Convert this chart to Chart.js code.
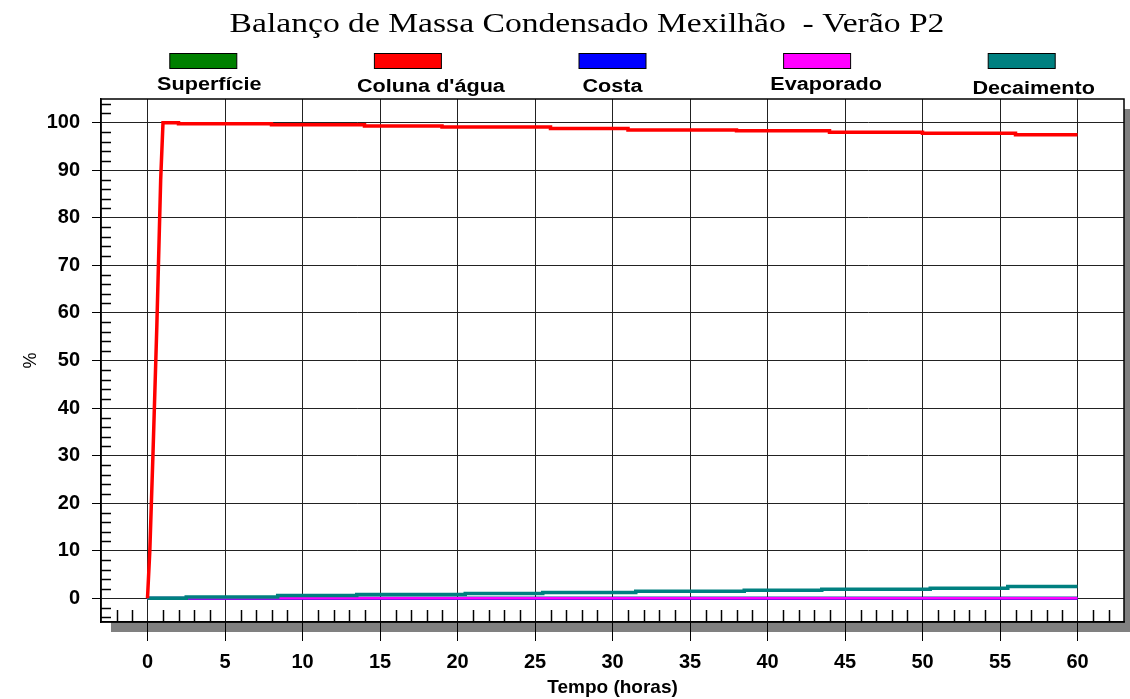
<!DOCTYPE html>
<html>
<head>
  <title>Balanço de Massa Condensado Mexilhão - Verão P2</title>
  <script src="https://cdn.jsdelivr.net/npm/chart.js"></script>
  <style>
    body { margin: 0; background: #fff; }
    canvas { display: block; }
  </style>
</head>
<body>
<canvas id="chart" width="1130" height="699"></canvas>
<script>
const titulo = 'Balanço de Massa Condensado Mexilhão  - Verão P2';
const series = ['Superfície', "Coluna d'água", 'Costa', 'Evaporado', 'Decaimento'];
const cores = ['#008000', '#ff0000', '#0000ff', '#ff00ff', '#008080'];

// coluna d'água: subida rápida na primeira hora, depois degraus
const horasSubida = [0, 0.15, 0.35, 0.6, 0.85, 1.0];
const colunaSubida = [0, 10, 30, 57, 88, 100];
const horasColuna = [1.0, 2.0, 8.0, 14.0, 19.0, 26.0, 31.0, 38.0, 44.0, 50.0, 56.0, 60.0];
const colunaDegraus = [100, 99.8, 99.6, 99.3, 99.1, 98.8, 98.5, 98.3, 98.0, 97.8, 97.5, 97.5];

const horasDecaimento = [0, 2.5, 8.4, 13.5, 20.5, 25.5, 31.5, 38.5, 43.5, 50.5, 55.5, 60];
const decaimento = [0, 0.27, 0.57, 0.78, 0.99, 1.2, 1.47, 1.68, 1.89, 2.1, 2.45, 2.45];

const horasZero = [0, 60];
const superficie = [0, 0];
const costa = [0, 0];
const evaporado = [0, 0];

const xTicks = [0, 5, 10, 15, 20, 25, 30, 35, 40, 45, 50, 55, 60];
const yTicks = [0, 10, 20, 30, 40, 50, 60, 70, 80, 90, 100];

const fonte = "Arial, 'Liberation Sans', sans-serif";

function linha(h, v) {
  return h.map((t, i) => ({ x: t, y: v[i] }));
}
function degraus(h, v) {
  const pts = [];
  h.forEach((t, i) => {
    if (i > 0) pts.push({ x: t, y: v[i - 1] });
    pts.push({ x: t, y: v[i] });
  });
  return pts;
}

const coluna = linha(horasSubida, colunaSubida).concat(degraus(horasColuna, colunaDegraus).slice(1));

const moldura = {
  id: 'moldura',
  beforeDraw(chart) {
    const { ctx, chartArea: a } = chart;
    ctx.save();
    ctx.fillStyle = '#808080';
    ctx.fillRect(a.left + 10, a.top + 10, a.right - a.left, a.bottom - a.top);
    ctx.fillStyle = '#fff';
    ctx.fillRect(a.left, a.top, a.right - a.left, a.bottom - a.top);
    ctx.restore();
  },
  beforeDatasetsDraw(chart) {
    const { ctx, chartArea: a, scales } = chart;
    ctx.save();
    ctx.strokeStyle = '#000';
    ctx.lineWidth = 1.5;
    // minor ticks x
    for (let v = -2; v <= 62; v++) {
      if (v % 5 === 0 && v >= 0 && v <= 60) continue;
      const px = Math.round(scales.x.getPixelForValue(v)) + 0.5;
      ctx.beginPath();
      ctx.moveTo(px, a.bottom - 12);
      ctx.lineTo(px, a.bottom);
      ctx.stroke();
    }
    // minor ticks y
    for (let v = -4; v <= 104; v += 2) {
      if (v % 10 === 0 && v >= 0 && v <= 100) continue;
      const py = Math.round(scales.y.getPixelForValue(v)) + 0.5;
      ctx.beginPath();
      ctx.moveTo(a.left, py);
      ctx.lineTo(a.left + 10, py);
      ctx.stroke();
    }
    ctx.strokeRect(a.left, a.top, a.right - a.left, a.bottom - a.top);
    ctx.restore();
  },
  afterDraw(chart) {
    const { ctx, chartArea: a } = chart;
    ctx.save();
    // titulo
    ctx.fillStyle = '#000';
    ctx.textAlign = 'center';
    ctx.textBaseline = 'alphabetic';
    ctx.font = "28px 'Liberation Serif', 'Times New Roman', serif";
    ctx.translate(587, 32);
    ctx.scale(1.2, 1);
    ctx.fillText(titulo, 0, 0);
    ctx.restore();

    // legenda
    const passo = (a.right - a.left) / series.length;
    const dx = [6, 23, 0, 9, 12];
    const dy = [0, 2, 2, 0, 4];
    series.forEach((nome, i) => {
      const cx = a.left + passo * (i + 0.5);
      ctx.save();
      ctx.fillStyle = cores[i];
      ctx.fillRect(cx - 33.5, 53, 67, 15);
      ctx.strokeStyle = '#000';
      ctx.lineWidth = 1;
      ctx.strokeRect(cx - 33.5, 53.5, 67, 15);
      ctx.fillStyle = '#000';
      ctx.textAlign = 'center';
      ctx.textBaseline = 'middle';
      ctx.font = 'bold 18px ' + fonte;
      ctx.translate(cx + dx[i], 85 + dy[i]);
      ctx.scale(1.2, 1);
      ctx.fillText(nome, 0, 0);
      ctx.restore();
    });
  }
};

const serieBase = { pointRadius: 0, borderWidth: 3, tension: 0, fill: false };

new Chart(document.getElementById('chart'), {
  type: 'line',
  data: {
    datasets: [
      { ...serieBase, label: series[0], data: linha(horasZero, superficie), borderColor: cores[0], order: 4 },
      { ...serieBase, label: series[1], data: coluna, borderColor: cores[1], borderWidth: 3.5, order: 0 },
      { ...serieBase, label: series[2], data: linha(horasZero, costa), borderColor: cores[2], order: 3 },
      { ...serieBase, label: series[3], data: linha(horasZero, evaporado), borderColor: cores[3], borderWidth: 2.5, order: 2 },
      { ...serieBase, label: series[4], data: degraus(horasDecaimento, decaimento), borderColor: cores[4], borderWidth: 3.5, order: 1 }
    ]
  },
  options: {
    responsive: false,
    animation: false,
    devicePixelRatio: 1,
    layout: { padding: { top: 99, right: 6, left: 0, bottom: 0 } },
    plugins: { legend: { display: false }, tooltip: { enabled: false }, title: { display: false } },
    scales: {
      x: {
        type: 'linear', min: -3, max: 63,
        afterBuildTicks: s => { s.ticks = xTicks.map(v => ({ value: v })); },
        afterFit: s => { s.height = 77; },
        grid: { color: '#222', lineWidth: 1, tickLength: 19, tickColor: '#000' },
        border: { color: '#000', width: 1.5 },
        ticks: { color: '#000', font: { family: fonte, size: 20, weight: 'bold' }, padding: 9, maxRotation: 0, autoSkip: false },
        title: { display: true, text: 'Tempo (horas)', color: '#000', font: { family: fonte, size: 19, weight: 'bold' }, padding: { top: 0, bottom: 0 } }
      },
      y: {
        min: -5, max: 105,
        afterBuildTicks: s => { s.ticks = yTicks.map(v => ({ value: v })); },
        afterFit: s => { s.width = 101; },
        grid: { color: '#222', lineWidth: 1, tickLength: 9, tickColor: '#000' },
        border: { color: '#000', width: 1.5 },
        ticks: { color: '#000', font: { family: fonte, size: 20, weight: 'bold' }, padding: 12, autoSkip: false },
        title: { display: true, text: '%', color: '#000', font: { family: fonte, size: 18 }, padding: { top: 20, bottom: 0 } }
      }
    }
  },
  plugins: [moldura]
});
</script>
</body>
</html>
